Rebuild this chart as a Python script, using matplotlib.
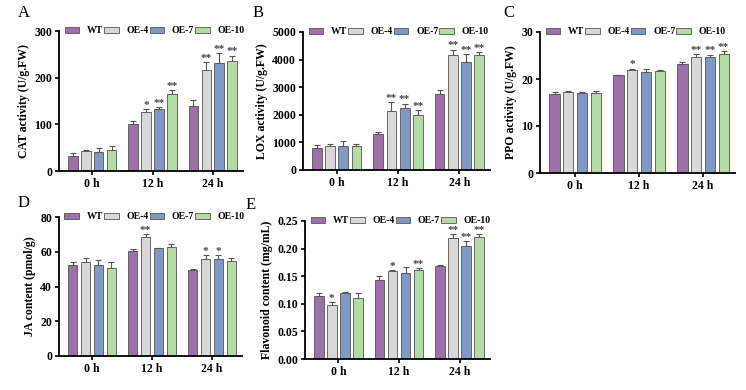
import numpy as np
import matplotlib
matplotlib.use('Agg')
import matplotlib.pyplot as plt

plt.rcParams['font.family'] = ['Liberation Serif', 'DejaVu Serif']
plt.rcParams['font.weight'] = 'bold'

groups = ['0 h', '12 h', '24 h']
lines = ['WT', 'OE-4', 'OE-7', 'OE-10']
colors = ['#9d6fab', '#d8d8d8', '#7f98c6', '#b3dba3']

# CAT activity
cat_mean = [[33, 100, 140], [43, 127, 216], [41, 132, 232], [45, 166, 235]]
cat_err = [[5, 7, 12], [3, 5, 18], [8, 5, 20], [8, 8, 12]]
cat_sig = [['', '', ''], ['', '*', '**'], ['', '**', '**'], ['', '**', '**']]

# LOX activity
lox_mean = [[800, 1300, 2750], [860, 2130, 4180], [860, 2250, 3920], [860, 1980, 4180]]
lox_err = [[90, 90, 160], [100, 330, 180], [180, 150, 280], [100, 180, 90]]
lox_sig = [['', '', ''], ['', '**', '**'], ['', '**', '**'], ['', '**', '**']]

# PPO activity
ppo_mean = [[16.9, 20.8, 23.1], [17.2, 21.9, 24.6], [17.1, 21.5, 24.7], [17.0, 21.8, 25.4]]
ppo_err = [[0.3, 0.1, 0.6], [0.3, 0.3, 0.7], [0.1, 0.7, 0.5], [0.5, 0.2, 0.6]]
ppo_sig = [['', '', ''], ['', '*', '**'], ['', '', '**'], ['', '', '**']]

# JA content
ja_mean = [[52.3, 60.5, 49.7], [54.2, 68.7, 55.6], [52.5, 62.0, 55.6], [50.8, 62.8, 54.5]]
ja_err = [[2.0, 1.0, 0.2], [2.2, 1.5, 2.5], [3.0, 0.2, 2.5], [3.5, 1.8, 2.0]]
ja_sig = [['', '', ''], ['', '**', '*'], ['', '', '*'], ['', '', '']]

# Flavonoid content
fla_mean = [[0.114, 0.144, 0.169], [0.098, 0.159, 0.219], [0.120, 0.156, 0.205], [0.110, 0.161, 0.221]]
fla_err = [[0.006, 0.007, 0.002], [0.005, 0.002, 0.007], [0.001, 0.011, 0.009], [0.009, 0.004, 0.005]]
fla_sig = [['', '', ''], ['*', '*', '**'], ['', '', '**'], ['', '**', '**']]

panels = [
    ('A', [59, 31, 243, 171], cat_mean, cat_err, cat_sig, 'CAT activity (U/g.FW)',
     np.arange(0, 301, 100), lambda v: f'{v:g}'),
    ('B', [303, 32, 490, 170], lox_mean, lox_err, lox_sig, 'LOX activity (U/g.FW)',
     np.arange(0, 5001, 1000), lambda v: f'{v:g}'),
    ('C', [540, 32, 735, 173], ppo_mean, ppo_err, ppo_sig, 'PPO activity (U/g.FW)',
     np.arange(0, 31, 10), lambda v: f'{v:g}'),
    ('D', [59, 217, 242, 356], ja_mean, ja_err, ja_sig, 'JA content (pmol/g)',
     np.arange(0, 81, 20), lambda v: f'{v:g}'),
    ('E', [305, 221, 490, 359], fla_mean, fla_err, fla_sig, 'Flavonoid content (mg/mL)',
     np.linspace(0, 0.25, 6), lambda v: f'{v:.2f}'),
]
label_pos = {'A': (18, 13), 'B': (253, 13), 'C': (503, 13), 'D': (18, 203), 'E': (246, 205)}

W, H = 746, 390
fig = plt.figure(figsize=(W / 100, H / 100), dpi=100)

BAR_W = 0.16
STEP = 0.215
x = np.arange(len(groups))

for name, (l, t, r, b), means, errs, sigs, ylabel, yticks, fmt in panels:
    ax = fig.add_axes([l / W, 1 - b / H, (r - l) / W, (b - t) / H])
    ymax = yticks[-1]
    for i, line in enumerate(lines):
        xs = x + (i - 1.5) * STEP
        ax.bar(xs, means[i], width=BAR_W, color=colors[i], edgecolor='#555555',
               linewidth=0.6, label=line, zorder=2)
        ax.errorbar(xs, means[i], yerr=[np.zeros(3), errs[i]], fmt='none',
                    ecolor='#555555', elinewidth=0.8, capsize=2, capthick=0.8, zorder=1)
        for j in range(3):
            if sigs[i][j]:
                ax.text(xs[j], means[i][j] + errs[i][j] - ymax * 0.005, sigs[i][j],
                        ha='center', va='bottom', fontsize=8, color='#444444',
                        fontweight='bold')
    ax.set_xlim(-0.55, 2.5)
    ax.set_ylim(0, ymax)
    ax.set_yticks(yticks)
    ax.set_yticklabels([fmt(v) for v in yticks])
    ax.set_xticks(x)
    ax.set_xticklabels(groups)
    ax.spines['top'].set_visible(False)
    ax.spines['right'].set_visible(False)
    ax.spines['left'].set_linewidth(1.3)
    ax.spines['bottom'].set_linewidth(1.3)
    ax.tick_params(axis='both', labelsize=8.5, width=1.2, length=3, pad=2)
    for lab in ax.get_xticklabels() + ax.get_yticklabels():
        lab.set_fontweight('bold')
    ax.set_ylabel(ylabel, fontsize=8.5, fontweight='bold', labelpad=3)
    leg = ax.legend(ncol=4, loc='upper left', bbox_to_anchor=(0.03, 1.035),
                    frameon=False, fontsize=7, handlelength=1.5, handleheight=0.6,
                    handletextpad=0.8, columnspacing=0.1, borderaxespad=0,
                    borderpad=0)
    for txt in leg.get_texts():
        txt.set_fontweight('bold')
    lx, ly = label_pos[name]
    fig.text(lx / W, 1 - ly / H, name, fontsize=12, fontweight='normal',
             ha='left', va='center')

fig.savefig('out.png', dpi=100)
